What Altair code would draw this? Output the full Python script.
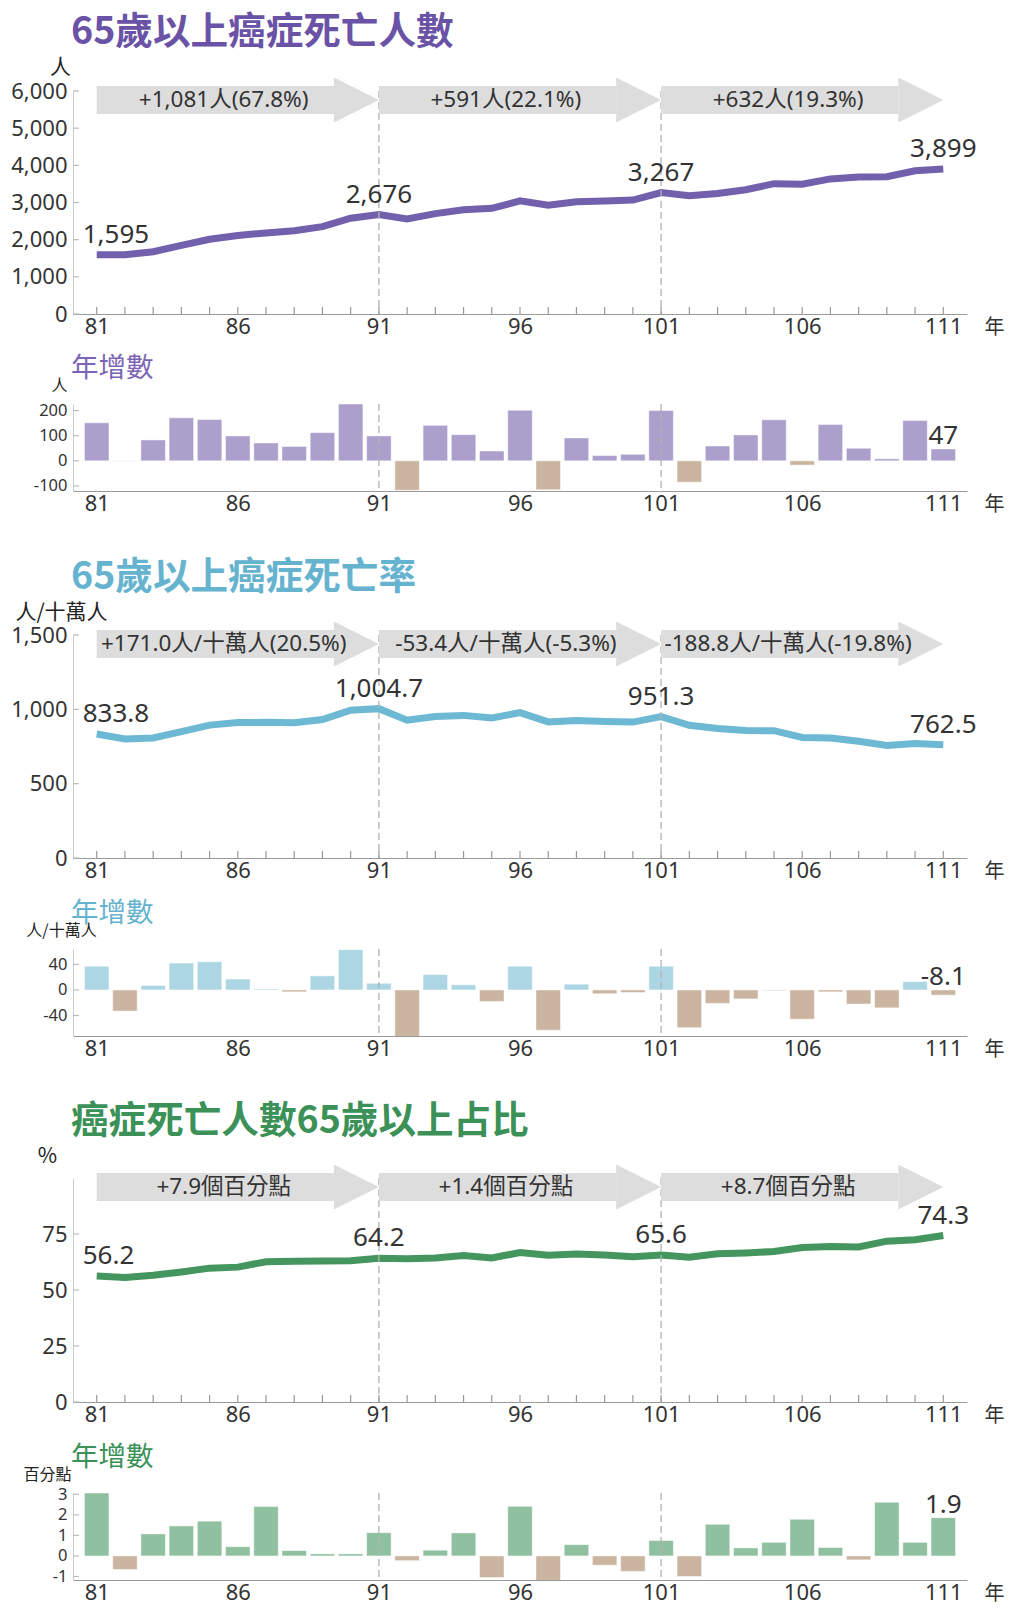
import altair as alt
import pandas as pd

years = list(range(81, 112))

deaths = [1595, 1594, 1677, 1848, 2012, 2111, 2182, 2239, 2351, 2577, 2676,
          2559, 2700, 2804, 2843, 3044, 2929, 3020, 3041, 3067, 3267,
          3182, 3241, 3344, 3507, 3490, 3634, 3684, 3692, 3852, 3899]
deaths_chg = [151, -1, 83, 171, 164, 99, 71, 57, 112, 226, 99,
              -117, 141, 104, 39, 201, -115, 91, 21, 26, 200,
              -85, 59, 103, 163, -17, 144, 50, 8, 160, 47]

rate = [833.8, 800.8, 807.8, 849.8, 893.8, 910.8, 912.3, 909.3, 931.3, 994.3, 1004.7,
        927.3, 951.3, 959.3, 941.3, 978.3, 915.3, 924.3, 918.3, 914.3, 951.3,
        892.3, 871.3, 857.3, 856.3, 810.6, 807.6, 785.6, 757.6, 770.6, 762.5]
rate_chg = [37, -33, 7, 42, 44, 17, 1.5, -3, 22, 63, 10.4,
            -77.4, 24, 8, -18, 37, -63, 9, -6, -4, 37,
            -59, -21, -14, -1, -45.7, -3, -22, -28, 13, -8.1]

share = [56.2, 55.54, 56.61, 58.07, 59.76, 60.21, 62.61, 62.87, 62.97, 63.07, 64.2,
         63.97, 64.25, 65.37, 64.32, 66.73, 65.5, 66.05, 65.6, 64.85, 65.6,
         64.6, 66.14, 66.53, 67.19, 68.97, 69.38, 69.19, 71.8, 72.46, 74.3]
share_chg = [3.06, -0.66, 1.07, 1.46, 1.69, 0.45, 2.4, 0.26, 0.1, 0.1, 1.13,
             -0.23, 0.28, 1.12, -1.05, 2.41, -1.23, 0.55, -0.45, -0.75, 0.75,
             -1.0, 1.54, 0.39, 0.66, 1.78, 0.41, -0.19, 2.61, 0.66, 1.86]

label_years = [81, 91, 101, 111]
periods = [(81, 91), (91, 101), (101, 111)]
split_years = [91, 101]
x_label_years = [81, 86, 91, 96, 101, 106, 111]

deaths_arrow_text = ["+1,081人(67.8%)", "+591人(22.1%)", "+632人(19.3%)"]
rate_arrow_text = ["+171.0人/十萬人(20.5%)", "-53.4人/十萬人(-5.3%)", "-188.8人/十萬人(-19.8%)"]
share_arrow_text = ["+7.9個百分點", "+1.4個百分點", "+8.7個百分點"]

titles = ["65歲以上癌症死亡人數", "65歲以上癌症死亡率", "癌症死亡人數65歲以上占比"]
sub_title = "年增數"

FONT = "Noto Sans, Noto Sans CJK TC"
CJK = "Noto Sans CJK TC, Noto Sans"
W = 894
HB = 87
XDOM = [80.16, 111.84]
NEG = "#cbb5a0"
TEXT = "#333333"
ARROW = "#dddddd"
HEAD = "M-1,-1L1,0L-1,1Z"


def x_axis():
    return alt.Axis(values=x_label_years, format="d", ticks=False, domainColor="#999999",
                    labelColor=TEXT, labelFontSize=22, labelPadding=2, labelFont=FONT,
                    title="年", titleAngle=0, titleX=W + 27, titleY=13, titleAlign="center",
                    titleBaseline="middle", titleFontSize=20, titleFontWeight="normal",
                    titleColor=TEXT, titleFont=CJK, grid=False)


def y_axis(ticks, fmt, unit, unit_x, unit_y, lsize, tsize):
    expr = f"replace(format(datum.value, '{fmt}'), '\u2212', '-')"
    return alt.Axis(values=ticks, labelExpr=expr, ticks=False,
                    domainColor="#cccccc", labelFontSize=lsize, labelColor=TEXT,
                    labelPadding=6, labelFont=FONT, grid=False, title=unit, titleAngle=0,
                    titleX=unit_x, titleY=unit_y, titleAlign="center",
                    titleBaseline="middle", titleFontSize=tsize, titleFontWeight="normal",
                    titleColor="#222222", titleFont=CJK)


def y_ticks(yticks, ys, ya):
    return alt.Chart(pd.DataFrame({"t": yticks})).mark_rule(
        color="#bbbbbb", strokeWidth=1.2).encode(
        y=alt.Y("t:Q", scale=ys, axis=ya), x=alt.value(0), x2=alt.value(6))


def line_panel(values, top, hl, yticks, yfmt, unit, unit_x, unit_y, title, title_color,
               line_color, arrow_texts, lab_fmt):
    k = top / hl
    bc = top - 9 * k
    bh = 14 * k
    head_len = 45 / (W / (XDOM[1] - XDOM[0]))
    xs = alt.Scale(domain=XDOM, nice=False, zero=False, padding=0)
    ys = alt.Scale(domain=[0, top], nice=False, zero=False, padding=0)
    xa = x_axis()
    ya = y_axis(yticks, yfmt, unit, unit_x, unit_y, 22, 21)
    df = pd.DataFrame({"yr": years, "v": values})
    seg = pd.DataFrame({"s": [p[0] for p in periods], "e": [p[1] for p in periods],
                        "t": arrow_texts})

    line = alt.Chart(df).mark_line(color=line_color, strokeWidth=7, clip=False).encode(
        x=alt.X("yr:Q", scale=xs, axis=xa),
        y=alt.Y("v:Q", scale=ys, axis=ya))
    split = alt.Chart(pd.DataFrame({"yr": split_years})).mark_rule(
        color="#b3b3b3", strokeDash=[7, 4], strokeWidth=1.3
    ).encode(x=alt.X("yr:Q", scale=xs, axis=xa))
    ticks = alt.Chart(df).mark_rule(color="#999999", strokeWidth=1.2).encode(
        x=alt.X("yr:Q", scale=xs, axis=xa), y=alt.value(hl - 7), y2=alt.value(hl))
    geo = alt.Chart(seg).transform_calculate(
        hx=f"datum.e - {head_len}", hm=f"datum.e - {head_len / 2}",
        tx="datum.s + 4.5", bc=f"{bc}", lo=f"{bc - bh}", hi=f"{bc + bh}")
    body = geo.mark_rect(color=ARROW, clip=False).encode(
        x=alt.X("s:Q", scale=xs, axis=xa), x2="hx:Q",
        y=alt.Y("lo:Q", scale=ys, axis=ya), y2="hi:Q")
    head = geo.mark_point(shape=HEAD, size=2025, filled=True, color=ARROW, opacity=1,
                          strokeWidth=0, clip=False).encode(
        x=alt.X("hm:Q", scale=xs, axis=xa), y=alt.Y("bc:Q", scale=ys, axis=ya))
    arrow_text = geo.mark_text(fontSize=22.5, color=TEXT, font=FONT,
                               baseline="middle", clip=False).encode(
        x=alt.X("tx:Q", scale=xs, axis=xa), y=alt.Y("bc:Q", scale=ys, axis=ya), text="t:N")
    labs = alt.Chart(df).transform_filter(
        alt.FieldOneOfPredicate(field="yr", oneOf=label_years))
    lab_first = labs.transform_filter("datum.yr == 81").mark_text(
        align="left", dx=-14, dy=-12, baseline="alphabetic", fontSize=26, color=TEXT, font=FONT
    ).encode(x=alt.X("yr:Q", scale=xs, axis=xa), y=alt.Y("v:Q", scale=ys, axis=ya),
             text=alt.Text("v:Q", format=lab_fmt))
    lab_rest = labs.transform_filter("datum.yr != 81").mark_text(
        align="center", dy=-12, baseline="alphabetic", fontSize=26, color=TEXT, font=FONT
    ).encode(x=alt.X("yr:Q", scale=xs, axis=xa), y=alt.Y("v:Q", scale=ys, axis=ya),
             text=alt.Text("v:Q", format=lab_fmt))
    ytk = y_ticks(yticks, ys, ya)
    return alt.layer(line, split, ticks, ytk, body, head, arrow_text, lab_first,
                     lab_rest).properties(
        width=W, height=hl,
        title=alt.TitleParams(title, anchor="start", frame="group", fontSize=37.6,
                              fontWeight="bold", color=title_color, font=CJK, offset=4, dx=-2))


def bar_panel(values, dom, yticks, yfmt, unit, unit_x, sub_color, pos_color, lab_fmt):
    xs = alt.Scale(domain=XDOM, nice=False, zero=False, padding=0)
    ys = alt.Scale(domain=dom, nice=False, zero=False, padding=0)
    xa = x_axis()
    ya = y_axis(yticks, yfmt, unit, unit_x, -19, 16.5, 16)
    df = pd.DataFrame({"yr": years, "v": values})
    bars = alt.Chart(df).mark_bar(size=24.5, clip=True, stroke="#ffffff",
                                  strokeWidth=0.8, strokeOpacity=0.6).encode(
        x=alt.X("yr:Q", scale=xs, axis=xa),
        y=alt.Y("v:Q", scale=ys, axis=ya),
        y2=alt.datum(0),
        color=alt.condition("datum.v >= 0", alt.value(pos_color), alt.value(NEG)))
    split = alt.Chart(pd.DataFrame({"yr": split_years})).mark_rule(
        color="#b3b3b3", strokeDash=[7, 4], strokeWidth=1.3
    ).encode(x=alt.X("yr:Q", scale=xs, axis=xa))
    lab = alt.Chart(df).transform_filter("datum.yr == 111").transform_calculate(
        ly="max(datum.v, 0)",
        t=f"replace(format(datum.v, '{lab_fmt}'), '\u2212', '-')"
    ).mark_text(dy=-5, baseline="alphabetic", fontSize=26,
                color=TEXT, font=FONT, clip=False).encode(
        x=alt.X("yr:Q", scale=xs, axis=xa), y=alt.Y("ly:Q", scale=ys, axis=ya),
        text="t:N")
    ytk = y_ticks(yticks, ys, ya)
    return alt.layer(bars, split, ytk, lab).properties(
        width=W, height=HB,
        title=alt.TitleParams(sub_title, anchor="start", frame="group", fontSize=27.5,
                              fontWeight="normal", color=sub_color, font=CJK, offset=-5, dx=-2))


def spacer(h):
    return alt.Chart(pd.DataFrame({"a": [0]})).mark_point(opacity=0).encode(
        x=alt.value(0), y=alt.value(0)).properties(width=W, height=h)


L1 = line_panel(deaths, 6000, 223, [0, 1000, 2000, 3000, 4000, 5000, 6000], ",", "人",
                -13, -24, titles[0], "#6a52a6", "#7260ad", deaths_arrow_text, ",")
B1 = bar_panel(deaths_chg, [-120, 226], [-100, 0, 100, 200], "d", "人", -14,
               "#7b64b6", "#ab9fcc", "d")
L2 = line_panel(rate, 1500, 223, [0, 500, 1000, 1500], ",", "人/十萬人", -12, -23,
                titles[1], "#66b3cf", "#6db8d3", rate_arrow_text, ",.1f")
B2 = bar_panel(rate_chg, [-72, 64], [-40, 0, 40], "d", "人/十萬人", -12,
               "#66b3cf", "#acd6e3", ".1f")
L3 = line_panel(share, 100, 224, [0, 25, 50, 75], "d", "%", -26, -22,
                titles[2], "#3b9157", "#45965e", share_arrow_text, ".1f")
B3 = bar_panel(share_chg, [-1.17, 3.06], [-1, 0, 1, 2, 3], "d", "百分點", -26,
               "#3b9157", "#8fc09f", ".1f")

chart = alt.vconcat(L1, spacer(90), B1, spacer(144), L2, spacer(91), B2, spacer(142),
                    L3, spacer(91), B3, spacing=0, bounds="flush").properties(
    padding={"left": 2, "top": 6, "right": 0, "bottom": 0}
).configure(font=FONT).configure_view(strokeWidth=0)

chart.save("out.html", embed_options={"renderer": "svg", "actions": False})
